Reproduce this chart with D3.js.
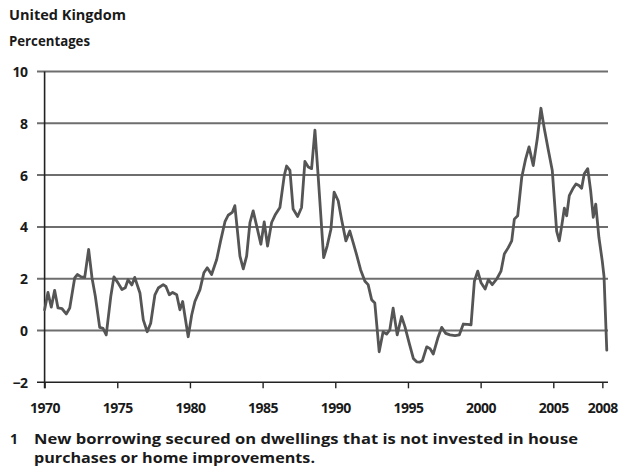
<!DOCTYPE html>
<html><head><meta charset="utf-8">
<script src="https://cdn.jsdelivr.net/npm/d3@7"></script>
<style>body{margin:0;background:#fff} svg{display:block}</style>
</head><body><svg id="c" width="620" height="469"></svg>
<script>
// Data (decimal year, percentage)
const years = [1970.0,1970.23,1970.46,1970.69,1970.92,1971.2,1971.49,1971.73,1972.07,1972.25,1972.52,1972.76,
1973.03,1973.26,1973.49,1973.79,1974.02,1974.24,1974.55,1974.77,1975.05,1975.32,1975.55,1975.74,1976.0,1976.2,
1976.56,1976.79,1977.06,1977.3,1977.59,1977.82,1978.16,1978.35,1978.58,1978.81,1979.09,1979.31,1979.5,1979.66,
1979.88,1980.12,1980.34,1980.69,1980.96,1981.19,1981.49,1981.84,1982.11,1982.41,1982.63,1982.91,1983.09,1983.28,
1983.44,1983.67,1983.9,1984.13,1984.35,1984.59,1984.88,1985.11,1985.34,1985.62,1985.89,1986.19,1986.49,1986.65,
1986.88,1987.1,1987.41,1987.68,1987.91,1988.14,1988.37,1988.6,1988.82,1989.2,1989.44,1989.7,1989.92,1990.2,
1990.43,1990.73,1991.0,1991.23,1991.46,1991.74,1992.04,1992.26,1992.5,1992.72,1993.02,1993.29,1993.53,1993.75,
1993.98,1994.26,1994.56,1994.79,1995.09,1995.37,1995.6,1995.83,1995.99,1996.29,1996.52,1996.74,1997.05,1997.32,
1997.6,1997.89,1998.24,1998.53,1998.81,1999.11,1999.34,1999.57,1999.8,2000.03,2000.31,2000.53,2000.8,2001.11,
2001.4,2001.63,2001.9,2002.14,2002.32,2002.55,2002.83,2003.1,2003.33,2003.62,2003.9,2004.15,2004.38,2004.66,
2004.93,2005.07,2005.23,2005.41,2005.58,2005.76,2005.92,2006.1,2006.34,2006.56,2006.77,2006.95,2007.13,2007.37,
2007.57,2007.75,2007.92,2008.14,2008.37,2008.49,2008.68];
const values = [0.8,1.47,0.9,1.55,0.87,0.84,0.64,0.87,2.03,2.16,2.07,2.05,
3.13,2.04,1.32,0.12,0.08,-0.17,1.3,2.07,1.84,1.58,1.65,1.96,1.76,2.05,
1.45,0.41,-0.05,0.28,1.38,1.64,1.77,1.7,1.38,1.47,1.38,0.8,1.12,0.54,
-0.24,0.6,1.12,1.58,2.23,2.42,2.16,2.74,3.46,4.2,4.45,4.56,4.82,3.78,
2.87,2.38,2.87,4.17,4.62,4.04,3.33,4.19,3.26,4.17,4.49,4.75,5.98,6.35,
6.18,4.69,4.4,4.75,6.53,6.31,6.25,7.74,5.98,2.81,3.26,3.91,5.34,5.01,
4.3,3.46,3.84,3.39,2.94,2.35,1.9,1.77,1.19,1.06,-0.82,-0.05,-0.14,0.02,
0.86,-0.17,0.54,0.15,-0.5,-1.08,-1.21,-1.22,-1.17,-0.63,-0.7,-0.91,-0.3,0.12,
-0.11,-0.17,-0.2,-0.17,0.25,0.24,0.22,1.9,2.29,1.84,1.6,1.96,1.77,1.99,
2.29,2.95,3.2,3.46,4.3,4.43,5.92,6.63,7.09,6.37,7.41,8.58,7.8,6.96,
6.18,5.08,3.84,3.46,4.04,4.72,4.43,5.21,5.47,5.66,5.6,5.49,6.05,6.25,
5.4,4.37,4.88,3.59,2.68,2.09,-0.76];
const yTicks = [-2,0,2,4,6,8,10];
const xTickYears = [1970,1975,1980,1985,1990,1995,2000,2005,2008.375];
const xTickLabels = ["1970","1975","1980","1985","1990","1995","2000","2005","2008"];
const titleText = "United Kingdom";
const unitText = "Percentages";
const noteNumber = "1";
const noteLines = ["New borrowing secured on dwellings that is not invested in house",
                   "purchases or home improvements."];

const svg = d3.select("#c");
const FONT = "'Open Sans', 'Noto Sans', sans-serif";
const ink = "#1a1a1a";

function fit(el, w) {
  const cw = el.node().getComputedTextLength();
  if (Math.abs(cw - w) > 1.5) el.attr("textLength", w).attr("lengthAdjust", "spacingAndGlyphs");
  return el;
}

const x = d3.scaleLinear().domain([1970, 2008.75]).range([44.6, 607.8]);
const y = d3.scaleLinear().domain([-2, 10]).range([382.3, 71.5]);

// gridlines
svg.append("g").selectAll("line").data(yTicks.filter(d => d > -2)).join("line")
  .attr("x1", 37).attr("x2", 608)
  .attr("y1", d => y(d)).attr("y2", d => y(d))
  .attr("stroke", "#6e6e6e").attr("stroke-width", 2);

// x axis
const xAxis = d3.axisBottom(x).tickValues(xTickYears)
  .tickFormat((d, i) => xTickLabels[i]).tickSize(6).tickSizeOuter(0);
const gx = svg.append("g").attr("transform", `translate(0,${y(-2)})`).call(xAxis);
gx.select(".domain").remove();
gx.append("line").attr("x1", 37).attr("x2", 608).attr("y1", 0).attr("y2", 0)
  .attr("stroke", "#222").attr("stroke-width", 1.6);
gx.selectAll(".tick line").attr("stroke", "#222").attr("stroke-width", 1.4);
gx.selectAll(".tick text").attr("font-family", FONT).attr("font-weight", 700)
  .attr("font-size", 14).attr("fill", ink).attr("dy", null).attr("y", 31)
  .attr("letter-spacing", -0.5);

// y axis
const yAxis = d3.axisLeft(y).tickValues(yTicks).tickSize(0).tickPadding(0);
const gy = svg.append("g").attr("transform", `translate(${x(1970)},0)`).call(yAxis);
gy.select(".domain").remove();
gy.append("line").attr("x1", 0).attr("x2", 0).attr("y1", y(10)).attr("y2", y(-2) + 6)
  .attr("stroke", "#222").attr("stroke-width", 1.6);
gy.selectAll(".tick text").attr("font-family", FONT).attr("font-weight", 700)
  .attr("font-size", 14).attr("fill", ink).attr("x", -17).attr("dy", "0.36em")
  .attr("letter-spacing", -0.5);

// series line
const line = d3.line().x((d, i) => x(years[i])).y(d => y(d)).curve(d3.curveLinear);
svg.append("path").datum(values).attr("d", line)
  .attr("fill", "none").attr("stroke", "#555").attr("stroke-width", 2.8)
  .attr("stroke-linejoin", "round").attr("stroke-linecap", "round");

// titles
fit(svg.append("text").text(titleText).attr("x", 9).attr("y", 20)
  .attr("font-family", FONT).attr("font-weight", 700).attr("font-size", 14)
  .attr("fill", ink), 117);
fit(svg.append("text").text(unitText).attr("x", 9).attr("y", 46)
  .attr("font-family", FONT).attr("font-weight", 700).attr("font-size", 14)
  .attr("fill", ink), 81);

// footnote
svg.append("text").text(noteNumber).attr("x", 10).attr("y", 444)
  .attr("font-family", FONT).attr("font-weight", 700).attr("font-size", 14).attr("fill", ink);
const noteX = [34, 34], noteY = [444, 463], noteW = [544, 281];
noteLines.forEach((t, i) => {
  fit(svg.append("text").text(t).attr("x", noteX[i]).attr("y", noteY[i])
    .attr("font-family", FONT).attr("font-weight", 700).attr("font-size", 14).attr("fill", ink), noteW[i]);
});
</script></body></html>
